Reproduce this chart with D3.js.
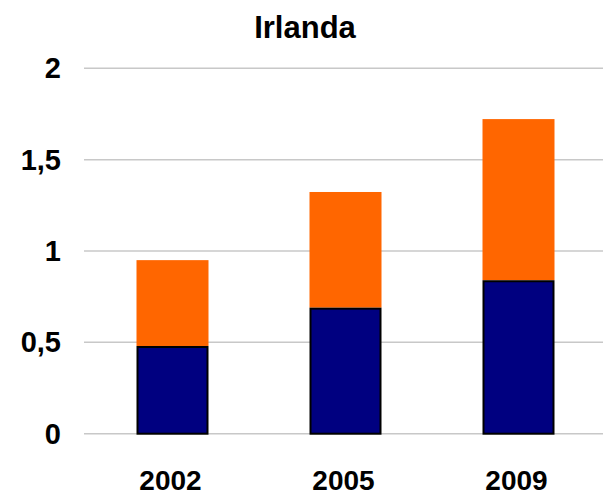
<!DOCTYPE html>
<html>
<head>
<meta charset="utf-8">
<script src="https://cdn.jsdelivr.net/npm/d3@7"></script>
<style>
html,body{margin:0;padding:0;background:#fff;}
svg{display:block;}
text{font-family:"Liberation Sans",Arial,sans-serif;font-weight:bold;fill:#000;}
</style>
</head>
<body>
<svg id="chart" width="603" height="496"></svg>
<script>
const categories = ["2002", "2005", "2009"];
const seriesBlue = [0.48, 0.69, 0.84];
const seriesOrange = [0.47, 0.633, 0.882];
const yTicks = [0, 0.5, 1, 1.5, 2];
const yTickLabels = ["0", "0,5", "1", "1,5", "2"];
const title = "Irlanda";

const svg = d3.select("#chart");
const W = 603, H = 496;

const y = d3.scaleLinear().domain([0, 2]).range([433.7, 68.3]);
const pad = 1 - 72 / 173;
const x = d3.scaleBand().domain(categories).range([86, 605]).paddingInner(pad).paddingOuter(pad / 2);

// gridlines
svg.append("g").selectAll("line").data(yTicks).join("line")
  .attr("x1", 84).attr("x2", W)
  .attr("y1", d => y(d)).attr("y2", d => y(d))
  .attr("stroke", "#c8c8c8").attr("stroke-width", 1.5);

// y labels
svg.append("g").selectAll("text").data(yTicks).join("text")
  .attr("x", 61).attr("y", d => y(d))
  .attr("text-anchor", "end").attr("dominant-baseline", "central")
  .attr("font-size", 29)
  .text((d, i) => yTickLabels[i]);

const stacked = categories.map((c, i) => ({c, b: seriesBlue[i], o: seriesOrange[i]}));

// orange (top)
svg.append("g").selectAll("rect").data(stacked).join("rect")
  .attr("x", d => x(d.c)).attr("width", x.bandwidth())
  .attr("y", d => y(d.b + d.o)).attr("height", d => y(d.b) - y(d.b + d.o))
  .attr("fill", "#ff6600");

// blue (bottom)
svg.append("g").selectAll("rect").data(stacked).join("rect")
  .attr("x", d => x(d.c) + 1).attr("width", x.bandwidth() - 2)
  .attr("y", d => y(d.b) + 1).attr("height", d => y(0) - y(d.b) - 1)
  .attr("fill", "#000080").attr("stroke", "#000").attr("stroke-width", 2);

// x labels
svg.append("g").selectAll("text").data(categories).join("text")
  .attr("x", d => x(d) + x.bandwidth() / 2 - 2).attr("y", 490)
  .attr("text-anchor", "middle").attr("font-size", 28)
  .text(d => d);

// title
svg.append("text").attr("x", 305).attr("y", 38.3)
  .attr("text-anchor", "middle").attr("font-size", 31)
  .text(title);
</script>
</body>
</html>
